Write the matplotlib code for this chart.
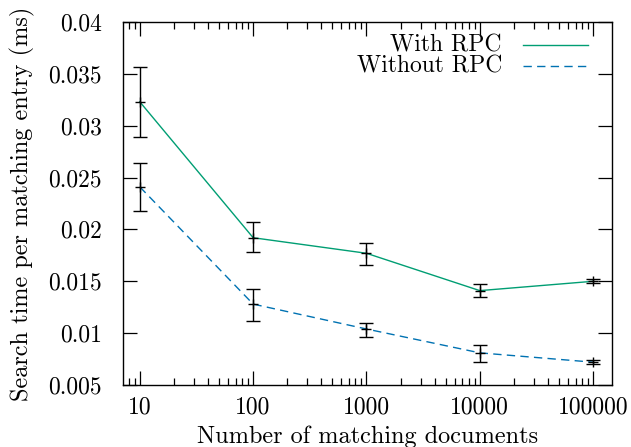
import matplotlib
matplotlib.use("Agg")
import matplotlib.pyplot as plt
from matplotlib.ticker import LogLocator, FixedLocator, NullFormatter

plt.rcParams['font.family'] = ['cmr10', 'DejaVu Serif']
plt.rcParams['mathtext.fontset'] = 'cm'
plt.rcParams['axes.formatter.use_mathtext'] = True

docs = [10, 100, 1000, 10000, 100000]
with_rpc = [0.0323, 0.0192, 0.0177, 0.0141, 0.0150]
with_rpc_lo = [0.0289, 0.0178, 0.0166, 0.0135, 0.0148]
with_rpc_hi = [0.0357, 0.0207, 0.0187, 0.0147, 0.0152]
without_rpc = [0.0241, 0.0128, 0.0104, 0.0081, 0.0072]
without_rpc_lo = [0.0218, 0.0112, 0.0096, 0.0072, 0.0070]
without_rpc_hi = [0.0264, 0.0143, 0.0110, 0.0089, 0.0074]
xticks = [10, 100, 1000, 10000, 100000]
xticklabels = ['10', '100', '1000', '10000', '100000']
yticks = [0.005, 0.01, 0.015, 0.02, 0.025, 0.03, 0.035, 0.04]
yticklabels = ['0.005', '0.01', '0.015', '0.02', '0.025', '0.03', '0.035', '0.04']

W, H = 631, 447
fig = plt.figure(figsize=(W / 100, H / 100), dpi=100)
L, R, T, B = 122.5, 611.7, 22, 385
ax = fig.add_axes([L / W, 1 - B / H, (R - L) / W, (B - T) / H])

FS = 17
LFS = 17.5
green = '#009e73'
blue = '#0072b2'
dash = (0, (6, 3.8))
ax.plot(docs, with_rpc, color=green, lw=1.0, zorder=2)
ax.plot(docs, without_rpc, color=blue, lw=1.0, ls=dash, zorder=2)

for vals, lo, hi in [(with_rpc, with_rpc_lo, with_rpc_hi), (without_rpc, without_rpc_lo, without_rpc_hi)]:
    err = [[v - l for v, l in zip(vals, lo)], [h - v for v, h in zip(vals, hi)]]
    ax.errorbar(docs, vals, yerr=err, fmt='+', color='black', ms=7, mew=1.0,
                elinewidth=1.0, capsize=5.2, capthick=1.0, zorder=3)

ax.set_xscale('log')
ax.set_xlim(7.03, 146000)
ax.set_ylim(0.005, 0.04)
ax.xaxis.set_major_locator(FixedLocator(xticks))
ax.set_xticklabels(xticklabels)
ax.xaxis.set_minor_locator(LogLocator(base=10, subs=range(2, 10), numticks=20))
ax.xaxis.set_minor_formatter(NullFormatter())
ax.set_yticks(yticks)
ax.set_yticklabels(yticklabels)

ax.tick_params(which='major', direction='in', length=10.3, width=0.9, top=True, right=True, labelsize=FS)
ax.tick_params(axis='y', which='major', pad=15)
ax.tick_params(axis='x', which='major', pad=8)
ax.tick_params(which='minor', direction='in', length=5.2, width=0.9, top=True, right=True)
for s in ax.spines.values():
    s.set_linewidth(1.0)

ax.set_xlabel('Number of matching documents', fontsize=LFS, labelpad=5)
ax.set_ylabel('Search time per matching entry (ms)', fontsize=LFS, labelpad=9)

# legend (gnuplot style: right-aligned text, sample to the right)
tx = (502 - L) / (R - L)
lx0 = (523 - L) / (R - L)
lx1 = (588 - L) / (R - L)
for ypix, label, col, ls in [(45, 'With RPC', green, '-'), (66, 'Without RPC', blue, dash)]:
    yy = (B - ypix) / (B - T)
    ax.text(tx, yy, label, transform=ax.transAxes, ha='right', va='center', fontsize=FS)
    ax.plot([lx0, lx1], [yy, yy], transform=ax.transAxes, color=col, lw=1.0, ls=ls, clip_on=False)

fig.savefig('out.png', dpi=100)
